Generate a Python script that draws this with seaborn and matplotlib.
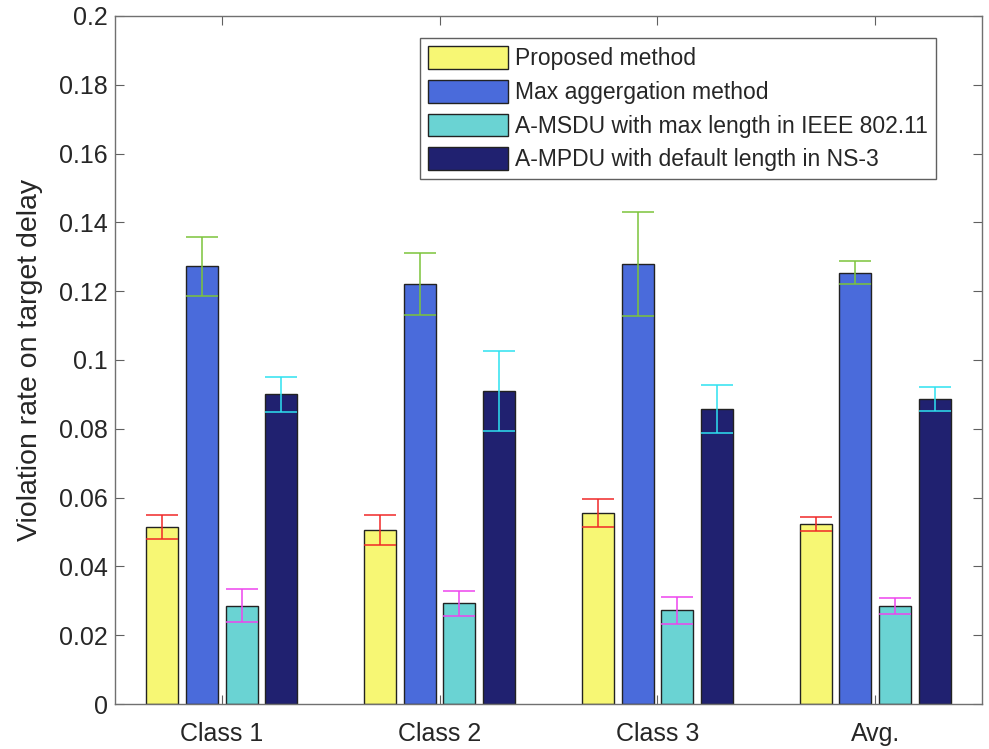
import matplotlib
matplotlib.use("Agg")
import matplotlib.pyplot as plt
import seaborn as sns
import pandas as pd
import numpy as np

groups = ["Class 1", "Class 2", "Class 3", "Avg."]
methods = ["Proposed method", "Max aggergation method",
           "A-MSDU with max length in IEEE 802.11",
           "A-MPDU with default length in NS-3"]

proposed = [0.0515, 0.0505, 0.0555, 0.0523]
max_aggr = [0.1272, 0.1221, 0.1278, 0.1254]
amsdu = [0.0286, 0.0293, 0.0273, 0.0285]
ampdu = [0.0900, 0.0910, 0.0858, 0.0887]

proposed_err = [0.0035, 0.0044, 0.0040, 0.0021]
max_aggr_err = [0.0086, 0.0091, 0.0151, 0.0034]
amsdu_err = [0.0048, 0.0036, 0.0039, 0.0023]
ampdu_err = [0.0050, 0.0117, 0.0070, 0.0034]

bar_colors = ["#F7F774", "#4A6BDB", "#6AD3D3", "#202170"]
err_colors = ["#F02828", "#7CC43A", "#EE44EE", "#2EE2F0"]

yticks = [0, 0.02, 0.04, 0.06, 0.08, 0.1, 0.12, 0.14, 0.16, 0.18, 0.2]
ytick_labels = ["0", "0.02", "0.04", "0.06", "0.08", "0.1", "0.12", "0.14", "0.16", "0.18", "0.2"]

values = [proposed, max_aggr, amsdu, ampdu]
errors = [proposed_err, max_aggr_err, amsdu_err, ampdu_err]

rows = []
for m, vals in zip(methods, values):
    for g, v in zip(groups, vals):
        rows.append({"group": g, "method": m, "value": v})
df = pd.DataFrame(rows)

sns.set_theme(style="white")
plt.rcParams["font.family"] = ["Liberation Sans", "DejaVu Sans"]

fig = plt.figure(figsize=(9.89, 7.49), dpi=100)
ax = fig.add_axes([115 / 989, 1 - 704 / 749, (982 - 115) / 989, (704 - 16) / 749])

sns.barplot(data=df, x="group", y="value", hue="method", hue_order=methods,
            order=groups, palette=bar_colors, width=0.727, gap=0.19,
            edgecolor="#222222", linewidth=1.0, errorbar=None, ax=ax,
            saturation=1.0)

for cont, errs, ec in zip(ax.containers, errors, err_colors):
    xs = [p.get_x() + p.get_width() / 2 for p in cont.patches]
    hs = [p.get_height() for p in cont.patches]
    ax.errorbar(xs, hs, yerr=errs, fmt="none", ecolor=ec, elinewidth=1.1,
                capsize=11.5, capthick=1.1, zorder=5)

ax.set_xlim(-0.49, 3.49)
ax.set_ylim(0, 0.2)
ax.set_yticks(yticks)
ax.set_yticklabels(ytick_labels)
ax.set_xlabel("")
ax.set_ylabel("Violation rate on target delay", fontsize=20.5, color="#262626")
ax.yaxis.set_label_coords(-0.083, 0.5)

ax.tick_params(axis="both", which="both", direction="in", length=6.5, width=0.8,
               color="#606060", labelsize=18, labelcolor="#262626",
               top=True, right=True, bottom=True, left=True)
ax.tick_params(axis="y", pad=5)
ax.tick_params(axis="x", pad=13)
for s in ax.spines.values():
    s.set_color("#707070")
    s.set_linewidth(1.0)
    s.set_visible(True)

handles, labels = ax.get_legend_handles_labels()
leg = ax.legend(handles, labels, loc="upper right", bbox_to_anchor=(0.947, 0.968),
                fontsize=16.5, frameon=True, fancybox=False, framealpha=1,
                edgecolor="#606060", handlelength=3.5, handleheight=1.15,
                handletextpad=0.3, labelspacing=0.42, borderpad=0.35,
                borderaxespad=0.0)
leg.get_frame().set_linewidth(1.0)

fig.savefig("out.png", dpi=100, facecolor="white")
